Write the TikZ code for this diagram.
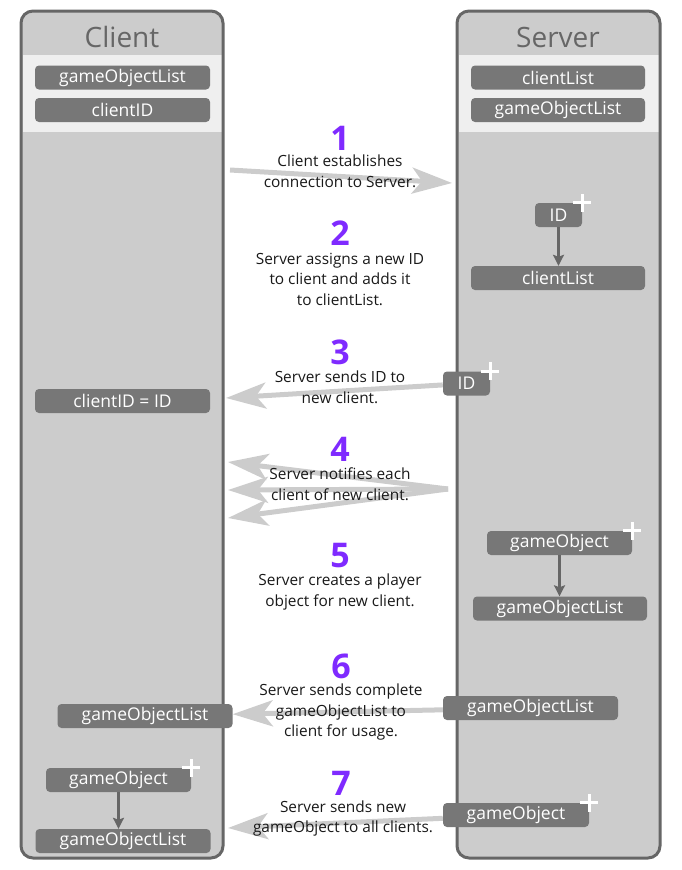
\documentclass[tikz,border=0pt]{standalone}
\usepackage{fontspec}
\setmainfont{Open Sans}
\usetikzlibrary{arrows.meta}
\definecolor{panelgray}{HTML}{CCCCCC}
\definecolor{bandgray}{HTML}{EFEFEF}
\definecolor{framegray}{HTML}{666666}
\definecolor{boxgray}{HTML}{777777}
\definecolor{stepviolet}{HTML}{7F2AFF}
\begin{document}
\begin{tikzpicture}[x=1pt,y=-1pt,
  box/.style={fill=boxgray,rounded corners=4pt,text=white,inner sep=0pt,
    minimum height=24pt,font=\fontsize{17.5}{19}\selectfont},
  title/.style={text=framegray,font=\fontsize{28}{32}\selectfont},
  num/.style={text=stepviolet,font=\fontsize{34}{36}\selectfont\bfseries},
  note/.style={text=black!90,align=center,font=\fontsize{15.4}{20.5}\selectfont},
  flow/.style={draw=panelgray,line width=5pt,-{Stealth[length=40pt,width=26pt,inset=10pt]}},
  push/.style={draw=framegray,line width=2.5pt,-{Stealth[length=11pt,width=11pt,inset=2pt]}},
  plus/.style={draw=white,line width=3pt}]
  \useasboundingbox (0,0) rectangle (681,870);
  \foreach \xa/\xb in {21/223,457/660} {
    \fill[panelgray,rounded corners=12pt] (\xa,11) rectangle (\xb,858);
    \fill[bandgray] (\xa+1.5,55) rectangle (\xb-1.5,132);
    \draw[framegray,line width=3pt,rounded corners=12pt] (\xa,11) rectangle (\xb,858);
  }
  \node[title] (client) at (122,37) {Client};
  \node[title] (server) at (558,37) {Server};
  % members
  \node[box,minimum width=175pt] (cgol) at (122.5,77.5) {gameObjectList};
  \node[box,minimum width=175pt] (cid) at (122.5,110) {clientID};
  \node[box,minimum width=174pt] (slist) at (558,77.5) {clientList};
  \node[box,minimum width=174pt] (sgol) at (558,110) {gameObjectList};
  % server side
  \node[box,minimum width=47pt] (idnew) at (558.5,215) {ID};
  \node[box,minimum width=174pt] (slist2) at (558,278) {clientList};
  \node[box,minimum width=47pt] (idsend) at (466.5,383.5) {ID};
  \node[box,minimum width=145pt] (sobjnew) at (559.5,543) {gameObject};
  \node[box,minimum width=174pt] (sgol5) at (560,608.5) {gameObjectList};
  \node[box,minimum width=175pt] (sgol6) at (530.5,708) {gameObjectList};
  \node[box,minimum width=146pt] (sobj7) at (516,815) {gameObject};
  % client side
  \node[box,minimum width=175pt] (cidset) at (122.5,401) {clientID = ID};
  \node[box,minimum width=175pt] (cgol6) at (145,716) {gameObjectList};
  \node[box,minimum width=145pt] (cobj) at (118.5,780) {gameObject};
  \node[box,minimum width=175pt] (cgol7) at (123,841) {gameObjectList};
  \foreach \b in {idnew,idsend,sobjnew,sobj7,cobj}
    \draw[plus] ([xshift=-9pt]\b.north east) -- ([xshift=9pt]\b.north east)
      ([yshift=-9pt]\b.north east) -- ([yshift=9pt]\b.north east);
  \draw[push] (idnew.south) -- (idnew.south |- slist2.north);
  \draw[push] (sobjnew.south) -- (sobjnew.south |- sgol5.north);
  \draw[push] (cobj.south) -- (cobj.south |- cgol7.north);
  % messages
  \coordinate (a1) at (230,170);
  \coordinate (b1) at (452,183);
  \coordinate (t3) at (226,398);
  \coordinate (s4) at (448,489);
  \coordinate (t4a) at (228,462);
  \coordinate (t4b) at (228,490);
  \coordinate (t4c) at (228,518);
  \coordinate (t7) at (228,828);
  \draw[flow] (a1) -- (b1);
  \draw[flow] (idsend) -- (t3);
  \draw[flow] (s4) -- (t4a);
  \draw[flow] (s4) -- (t4b);
  \draw[flow] (s4) -- (t4c);
  \draw[flow] (sgol6) -- (cgol6);
  \draw[flow] (sobj7) -- (t7);
  \node[num] (n1) at (340,138) {1};
  \node[note] (m1) at (340,171.5) {Client establishes\\connection to Server.};
  \node[num] (n2) at (340,233) {2};
  \node[note] (m2) at (340,279) {Server assigns a new ID\\to client and adds it\\to clientList.};
  \node[num] (n3) at (340,352) {3};
  \node[note] (m3) at (340,387.5) {Server sends ID to\\new client.};
  \node[num] (n4) at (340,449) {4};
  \node[note] (m4) at (340,484) {Server notifies each\\client of new client.};
  \node[num] (n5) at (340,556) {5};
  \node[note] (m5) at (340,592) {Server creates a player\\object for new client.};
  \node[num] (n6) at (341,666) {6};
  \node[note] (m6) at (341,712) {Server sends complete\\gameObjectList to\\client for usage.};
  \node[num] (n7) at (341,783) {7};
  \node[note] (m7) at (343,818.5) {Server sends new\\gameObject to all clients.};
\end{tikzpicture}
\end{document}
